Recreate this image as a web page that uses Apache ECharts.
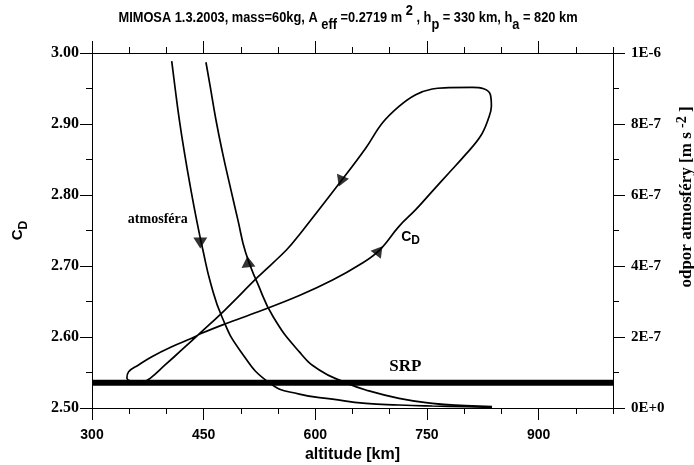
<!DOCTYPE html>
<html>
<head>
<meta charset="utf-8">
<title>MIMOSA CD</title>
<script src="https://cdn.jsdelivr.net/npm/echarts@6/dist/echarts.min.js"></script>
<style>
  html, body { margin: 0; padding: 0; background: #fff; }
  #main { width: 694px; height: 465px; }
</style>
</head>
<body>
<div id="main"></div>
<script>
// atmospheric drag, in units of 1e-7 m s^-2, vs altitude [km]
// descending branch (arrow down), from the top of the plot to apogee
var atmDownAlt  = [407.1, 411.3, 417.3, 424.3, 432.0, 440.5, 449.0, 459.5, 474.5, 498.6, 538.8, 578.6, 623.2, 667.9, 712.5, 757.1, 801.8, 837.5];
var atmDownDrag = [9.77, 9.07, 8.12, 7.18, 6.25, 5.30, 4.45, 3.51, 2.57, 1.63, 0.70, 0.39, 0.25, 0.13, 0.085, 0.056, 0.037, 0.02];
// ascending branch (arrow up), from apogee to the top of the plot
var atmUpAlt  = [837.5, 801.8, 757.1, 712.5, 667.9, 641.1, 605.4, 578.6, 543.4, 522.5, 506.5, 496.0, 485.5, 475.5, 466.5, 458.8, 453.1];
var atmUpDrag = [0.037, 0.065, 0.132, 0.273, 0.507, 0.713, 1.07, 1.58, 2.57, 3.51, 4.37, 5.30, 6.25, 7.18, 8.12, 9.06, 9.74];

// drag coefficient loop over one orbit
var cdAlt = [361.6, 346.9, 349.2, 362.5, 380.4, 407.1, 433.9, 447.3, 478.5, 523.3, 578.6, 623.2, 658.9, 685.7, 712.5, 734.9, 757.1, 779.5, 801.8, 821.9, 832.1, 836.6, 835.3, 826.3, 810.7, 779.5, 757.1, 734.9, 712.5, 690.1, 667.9, 634.4, 578.6, 561.2, 523.3, 478.5, 447.3, 420.5, 398.2, 378.1, 367.0, 361.6];
var cdVal = [2.5359, 2.5418, 2.5511, 2.5606, 2.5723, 2.5863, 2.5982, 2.6052, 2.6183, 2.6356, 2.6585, 2.6803, 2.7014, 2.7218, 2.7559, 2.7793, 2.8052, 2.8310, 2.8568, 2.8827, 2.9061, 2.9249, 2.9413, 2.9497, 2.9517, 2.9511, 2.9493, 2.9413, 2.9249, 2.9014, 2.8662, 2.8193, 2.7441, 2.7225, 2.6849, 2.6380, 2.6075, 2.5817, 2.5606, 2.5418, 2.5360, 2.5359];

// solar radiation pressure (1e-7 m s^-2)
var srpAlt = [300, 1000];
var srpDrag = [0.71, 0.71];

// direction arrows: [altitude, value, rotation deg]
var cdArrows = [[685.7, 2.7218, -38], [634.4, 2.8193, 158]];
var atmArrows = [[445.5, 4.65, 180], [509.5, 4.12, 6]];

var altTicks = [300, 450, 600, 750, 900];
var altMinor = [350, 400, 500, 550, 650, 700, 800, 850, 950, 1000];
var dragTickLabels = { 0: '0E+0', 2: '2E-7', 4: '4E-7', 6: '6E-7', 8: '8E-7', 10: '1E-6' };

function pairs(xs, ys) {
  return xs.map(function (x, i) { return [x, ys[i]]; });
}

var SANS = 'Liberation Sans';
var SERIF = 'Liberation Serif';
var black = '#000';

var chart = echarts.init(document.getElementById('main'));

function xAxisDef(pos, ticks, len, withLabels, withLine) {
  return {
    type: 'value', position: pos, min: 300, max: 1000,
    axisLine: { show: withLine, lineStyle: { color: black, width: 1 } },
    axisTick: { show: true, customValues: ticks, length: len, inside: false, lineStyle: { color: black } },
    axisLabel: withLabels ? {
      customValues: ticks, margin: 20, color: black,
      fontFamily: SANS, fontWeight: 'bold', fontSize: 14
    } : { show: false },
    splitLine: { show: false }
  };
}

var xMain = xAxisDef('bottom', altTicks, 12, true, true);
xMain.name = 'altitude [km]';
xMain.nameLocation = 'middle';
xMain.nameGap = 38;
xMain.nameTextStyle = { fontFamily: SANS, fontWeight: 'bold', fontSize: 16, color: black };

chart.setOption({
  animation: false,
  backgroundColor: '#fff',
  grid: { left: 92, right: 81, top: 53, bottom: 57, containLabel: false, outerBoundsMode: 'none' },
  xAxis: [
    xMain,
    xAxisDef('bottom', altMinor, 6, false, false),
    xAxisDef('top', altTicks, 12, false, true),
    xAxisDef('top', altMinor, 6, false, false)
  ],
  yAxis: [
    {
      type: 'value', position: 'left', min: 2.5, max: 3.0, interval: 0.1,
      axisLine: { show: true, lineStyle: { color: black } },
      axisTick: { show: true, length: 12, lineStyle: { color: black } },
      minorTick: { show: true, splitNumber: 2, length: 6, lineStyle: { color: black } },
      axisLabel: {
        margin: 13, color: black, fontFamily: SERIF, fontWeight: 'bold', fontSize: 16,
        formatter: function (v) { return v.toFixed(2); }
      },
      splitLine: { show: false },
      name: '{c|C}{d|D}', nameLocation: 'middle', nameGap: 62,
      nameTextStyle: {
        rich: {
          c: { fontFamily: SANS, fontWeight: 'bold', fontSize: 15, lineHeight: 24, color: black },
          d: { fontFamily: SANS, fontWeight: 'bold', fontSize: 12, lineHeight: 14, verticalAlign: 'bottom', color: black }
        }
      }
    },
    {
      type: 'value', position: 'right', min: 0, max: 10, interval: 2,
      axisLine: { show: true, lineStyle: { color: black } },
      axisTick: { show: true, length: 12, lineStyle: { color: black } },
      minorTick: { show: true, splitNumber: 2, length: 6, lineStyle: { color: black } },
      axisLabel: {
        margin: 18, color: black, fontFamily: SERIF, fontWeight: 'bold', fontSize: 15,
        formatter: function (v) { return dragTickLabels[Math.round(v)]; }
      },
      splitLine: { show: false }
    }
  ],
  series: [
    {
      name: 'CD', type: 'line', xAxisIndex: 0, yAxisIndex: 0,
      data: pairs(cdAlt, cdVal), showSymbol: false, smooth: 0.4,
      lineStyle: { color: black, width: 1.7 }, z: 2
    },
    {
      name: 'atmosfera down', type: 'line', xAxisIndex: 0, yAxisIndex: 1,
      data: pairs(atmDownAlt, atmDownDrag), showSymbol: false, smooth: 0.5,
      lineStyle: { color: black, width: 1.7 }, z: 2
    },
    {
      name: 'atmosfera up', type: 'line', xAxisIndex: 0, yAxisIndex: 1,
      data: pairs(atmUpAlt, atmUpDrag), showSymbol: false, smooth: 0.5,
      lineStyle: { color: black, width: 1.7 }, z: 2
    },
    {
      name: 'SRP', type: 'line', xAxisIndex: 0, yAxisIndex: 1,
      data: pairs(srpAlt, srpDrag), showSymbol: false,
      lineStyle: { color: black, width: 6 }, z: 4
    },
    {
      name: 'CD arrows', type: 'scatter', xAxisIndex: 0, yAxisIndex: 0,
      symbol: 'triangle', symbolSize: [13, 11],
      data: cdArrows.map(function (a) { return { value: [a[0], a[1]], symbolRotate: a[2] }; }),
      itemStyle: { color: black }, z: 5
    },
    {
      name: 'atm arrows', type: 'scatter', xAxisIndex: 0, yAxisIndex: 1,
      symbol: 'triangle', symbolSize: [14, 11],
      data: atmArrows.map(function (a) { return { value: [a[0], a[1]], symbolRotate: a[2] }; }),
      itemStyle: { color: black }, z: 5
    }
  ]
});

// text notes placed in data coordinates
var notes = [
  { text: 'atmosféra', x: 388.4, y: 5.30, yAxis: 1, font: 'bold 14px ' + SERIF },
  { text: 'SRP', x: 721, y: 1.17, yAxis: 1, font: 'bold 17px ' + SERIF }
];
var graphics = notes.map(function (n) {
  var p = chart.convertToPixel({ xAxisIndex: 0, yAxisIndex: n.yAxis }, [n.x, n.y]);
  return {
    type: 'text', x: p[0], y: p[1], z: 10,
    style: { text: n.text, font: n.font, fill: black, align: 'center', verticalAlign: 'middle' }
  };
});
var cdPos = chart.convertToPixel({ xAxisIndex: 0, yAxisIndex: 0 }, [728, 2.741]);
graphics.push({
  type: 'text', x: cdPos[0], y: cdPos[1], z: 10,
  style: {
    text: '{c|C}{d|D}', align: 'center', verticalAlign: 'middle',
    rich: {
      c: { fontFamily: SANS, fontWeight: 'bold', fontSize: 14, lineHeight: 20, fill: black },
      d: { fontFamily: SANS, fontWeight: 'bold', fontSize: 12, lineHeight: 12, verticalAlign: 'bottom', fill: black }
    }
  }
});
// chart title (narrow, as in the original)
graphics.push({
  type: 'text', x: 348, y: 18, scaleX: 0.855, z: 10,
  style: {
    text: '{t|MIMOSA 1.3.2003, mass=60kg, A }{s|eff}{t| =0.2719 m }{p|2}{t| , h}{s|p}{t| = 330 km, h}{s|a}{t| = 820 km}',
    align: 'center', verticalAlign: 'middle',
    rich: {
      t: { fontFamily: SANS, fontWeight: 'bold', fontSize: 15, lineHeight: 29, fill: black },
      s: { fontFamily: SANS, fontWeight: 'bold', fontSize: 15, lineHeight: 17, verticalAlign: 'bottom', fill: black },
      p: { fontFamily: SANS, fontWeight: 'bold', fontSize: 15, lineHeight: 17, verticalAlign: 'top', fill: black }
    }
  }
});
// right axis title
graphics.push({
  type: 'text', x: 687, y: 197, rotation: Math.PI / 2, z: 10,
  style: {
    text: '{t|odpor atmosféry [m s }{p|-2}{t| ]}', align: 'center', verticalAlign: 'middle',
    rich: {
      t: { fontFamily: SERIF, fontWeight: 'bold', fontSize: 17, lineHeight: 24, fill: black },
      p: { fontFamily: SERIF, fontWeight: 'bold', fontSize: 14, lineHeight: 14, verticalAlign: 'top', fill: black }
    }
  }
});
chart.setOption({ graphic: graphics });
</script>
</body>
</html>
